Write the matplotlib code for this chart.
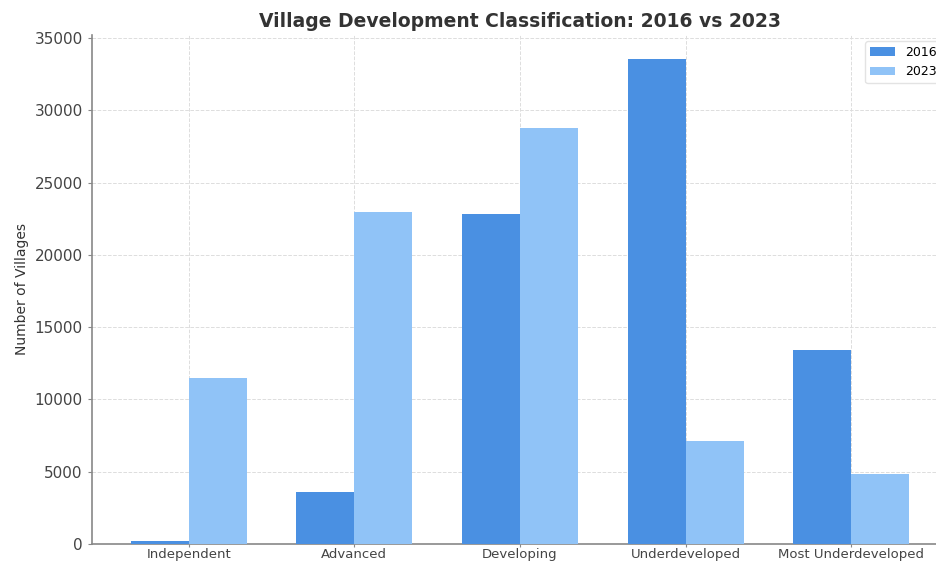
import matplotlib.pyplot as plt
import numpy as np

categories = ['Independent', 'Advanced', 'Developing', 'Underdeveloped', 'Most Underdeveloped']
villages_2016 = [170, 3600, 22850, 33550, 13450]
villages_2023 = [11500, 23000, 28750, 7150, 4850]

fig = plt.figure(figsize=(9.37, 5.63), dpi=100)
ax = fig.add_axes([0.098, 0.034, 0.914, 0.904])

x = np.arange(len(categories))
width = 0.35

ax.bar(x - width/2, villages_2016, width, label='2016', color='#4a90e2', zorder=3)
ax.bar(x + width/2, villages_2023, width, label='2023', color='#90c3f7', zorder=3)

ax.set_xticks(x)
ax.set_xticklabels(categories, fontsize=9.5, color='#444444')
ax.tick_params(axis='x', length=2, pad=1)
ax.tick_params(axis='y', labelsize=11, colors='#444444', length=3)
ax.tick_params(axis='both', color='#888888')
ax.set_ylabel('Number of Villages', fontsize=10, color='#333333')
ax.set_title('Village Development Classification: 2016 vs 2023', fontsize=13.5,
             fontweight='bold', color='#333333')

ax.grid(True, linestyle='--', color='#dddddd', linewidth=0.7, zorder=0)
for side in ['top', 'right']:
    ax.spines[side].set_visible(False)
for side in ['left', 'bottom']:
    ax.spines[side].set_color('#888888')
    ax.spines[side].set_linewidth(1.2)

ax.legend(loc='upper right', fontsize=9, frameon=True, edgecolor='#dddddd')

fig.savefig('out.png', dpi=100)
